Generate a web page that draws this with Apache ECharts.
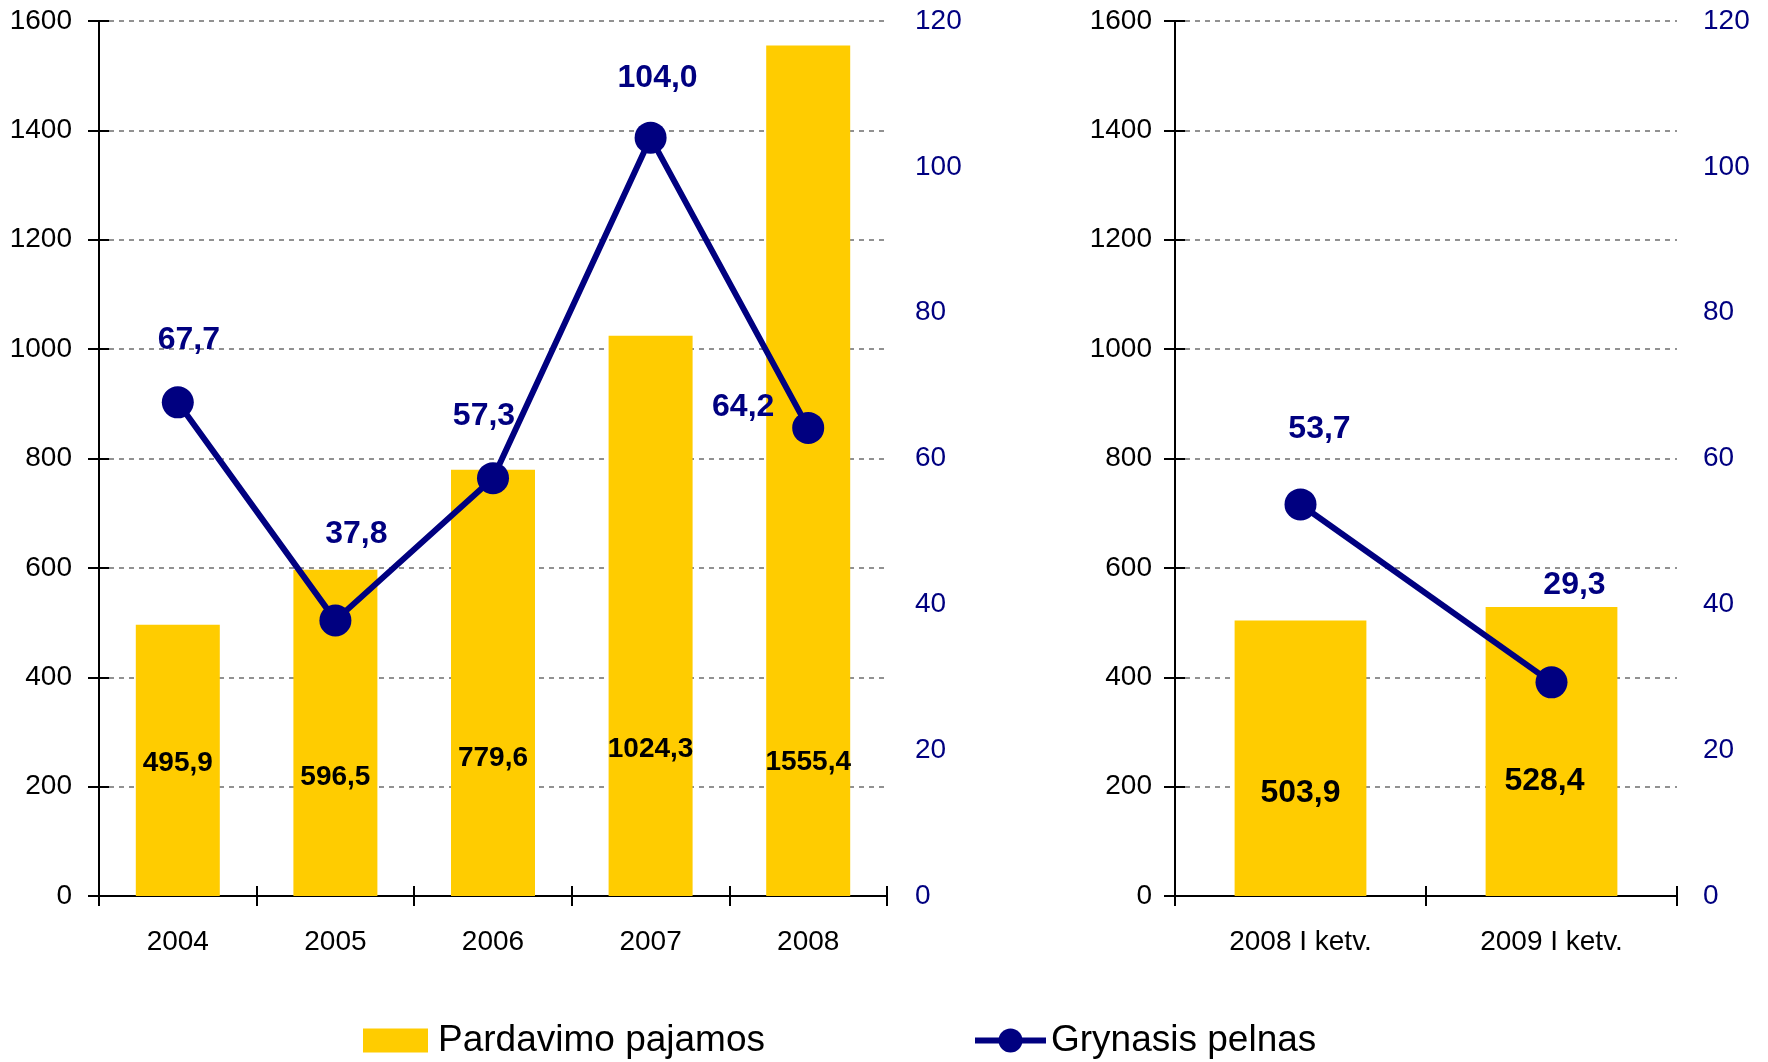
<!DOCTYPE html>
<html>
<head>
<meta charset="utf-8">
<script src="https://cdn.jsdelivr.net/npm/echarts@6/dist/echarts.min.js"></script>
<style>
html,body{margin:0;padding:0;background:#fff;}
#chart{width:1768px;height:1062px;}
</style>
</head>
<body>
<div id="chart"></div>
<script>
// ---- data ----
const categoriesA = ['2004', '2005', '2006', '2007', '2008'];
const revenueA = [495.9, 596.5, 779.6, 1024.3, 1555.4];
const profitA = [67.7, 37.8, 57.3, 104.0, 64.2];
const categoriesB = ['2008 I ketv.', '2009 I ketv.'];
const revenueB = [503.9, 528.4];
const profitB = [53.7, 29.3];
const revenueTicks = { min: 0, max: 1600, interval: 200 };
const profitTicks = { min: 0, max: 120, interval: 20 };
const seriesNames = ['Pardavimo pajamos', 'Grynasis pelnas'];

// ---- label placement (styles) ----
const profitLabelOffsetA = [[11, -62], [21, -86], [-9, -62], [7, -59], [-65, -21]];
const profitLabelOffsetB = [[19, -75], [23, -97]];
const barLabelLiftA = [133, 119, 138, 147, 134];
const barLabelLiftB = [103, 115];
const barLabelShiftB = [0, -7];

const FONT = 'Liberation Sans, Arial, sans-serif';
const NAVY = '#000080';
const GOLD = '#FFCC00';
const fmt = v => v.toFixed(1).replace('.', ',');
const plain = v => String(v);

function barData(values, lifts, shifts, fs) {
  return values.map((v, i) => ({
    value: v,
    label: { offset: [shifts ? shifts[i] : 0, -(lifts[i] - fs / 2)] }
  }));
}
function lineData(values, offsets) {
  return values.map((v, i) => ({ value: v, label: { offset: offsets[i] } }));
}

function mainX(grid, data) {
  return {
    type: 'category', gridIndex: grid, data: data, position: 'bottom',
    axisLine: { show: true, lineStyle: { color: '#000', width: 2 } },
    axisTick: { show: true, length: 10, inside: false, lineStyle: { color: '#000', width: 2 } },
    axisLabel: { fontFamily: FONT, fontSize: 28, color: '#000', margin: 32 },
    splitLine: { show: false }
  };
}
function tickX(grid, data) {
  return {
    type: 'category', gridIndex: grid, data: data, position: 'bottom',
    axisLine: { show: false },
    axisTick: { show: true, length: 10, inside: true, lineStyle: { color: '#000', width: 2 } },
    axisLabel: { show: false }, splitLine: { show: false }
  };
}
function leftY(grid, margin) {
  return {
    type: 'value', gridIndex: grid, position: 'left',
    min: revenueTicks.min, max: revenueTicks.max, interval: revenueTicks.interval,
    axisLine: { show: true, lineStyle: { color: '#000', width: 2 } },
    axisTick: { show: true, length: 11, inside: false, lineStyle: { color: '#000', width: 2 } },
    axisLabel: { fontFamily: FONT, fontSize: 28, color: '#000', margin: margin, formatter: plain },
    splitLine: { show: true, lineStyle: { color: '#6e6e6e', width: 1.5, type: [5, 5] } }
  };
}
function leftTickY(grid) {
  return {
    type: 'value', gridIndex: grid, position: 'left',
    min: revenueTicks.min, max: revenueTicks.max, interval: revenueTicks.interval,
    axisLine: { show: false },
    axisTick: { show: true, length: 10, inside: true, lineStyle: { color: '#000', width: 2 } },
    axisLabel: { show: false }, splitLine: { show: false }
  };
}
function rightY(grid, margin) {
  return {
    type: 'value', gridIndex: grid, position: 'right',
    min: profitTicks.min, max: profitTicks.max, interval: profitTicks.interval,
    axisLine: { show: false }, axisTick: { show: false },
    axisLabel: { fontFamily: FONT, fontSize: 28, color: NAVY, margin: margin, formatter: plain },
    splitLine: { show: false }
  };
}
function barSeries(xi, yi, data, fs, width) {
  return {
    name: seriesNames[0], type: 'bar', xAxisIndex: xi, yAxisIndex: yi,
    barWidth: width, data: data, z: 2,
    itemStyle: { color: GOLD },
    label: {
      show: true, position: 'insideBottom', distance: 0,
      fontFamily: FONT, fontSize: fs, fontWeight: 'bold', color: '#000',
      formatter: p => fmt(p.value)
    }
  };
}
function lineSeries(xi, yi, data) {
  return {
    name: seriesNames[1], type: 'line', xAxisIndex: xi, yAxisIndex: yi,
    data: data, z: 5,
    symbol: 'circle', symbolSize: 32,
    lineStyle: { color: NAVY, width: 6 },
    itemStyle: { color: NAVY },
    label: {
      show: true, position: 'inside',
      fontFamily: FONT, fontSize: 32, fontWeight: 'bold', color: NAVY,
      formatter: p => fmt(p.value)
    }
  };
}

const chart = echarts.init(document.getElementById('chart'));
chart.setOption({
  backgroundColor: '#fff',
  animation: false,
  grid: [
    { left: 99, top: 21, width: 788, height: 875 },
    { left: 1175, top: 21, width: 502, height: 875 }
  ],
  xAxis: [mainX(0, categoriesA), tickX(0, categoriesA), mainX(1, categoriesB), tickX(1, categoriesB)],
  yAxis: [leftY(0, 27), rightY(0, 28), leftTickY(0), leftY(1, 23), rightY(1, 26), leftTickY(1)],
  legend: [
    {
      data: [seriesNames[0]], left: 363, top: 1022, padding: 0, icon: 'rect',
      itemWidth: 65, itemHeight: 24, selectedMode: false,
      textStyle: { fontFamily: FONT, fontSize: 37, color: '#000', padding: [0, 0, 0, 5] }
    },
    {
      data: [seriesNames[1]], left: 972, top: 1022, padding: 0,
      itemWidth: 71, itemHeight: 30, selectedMode: false,
      lineStyle: { width: 6, color: NAVY },
      textStyle: { fontFamily: FONT, fontSize: 37, color: '#000' }
    }
  ],
  series: [
    barSeries(0, 0, barData(revenueA, barLabelLiftA, null, 28), 28, '53.3%'),
    lineSeries(0, 1, lineData(profitA, profitLabelOffsetA)),
    barSeries(2, 3, barData(revenueB, barLabelLiftB, barLabelShiftB, 32), 32, '52.5%'),
    lineSeries(2, 4, lineData(profitB, profitLabelOffsetB))
  ]
});
</script>
</body>
</html>
